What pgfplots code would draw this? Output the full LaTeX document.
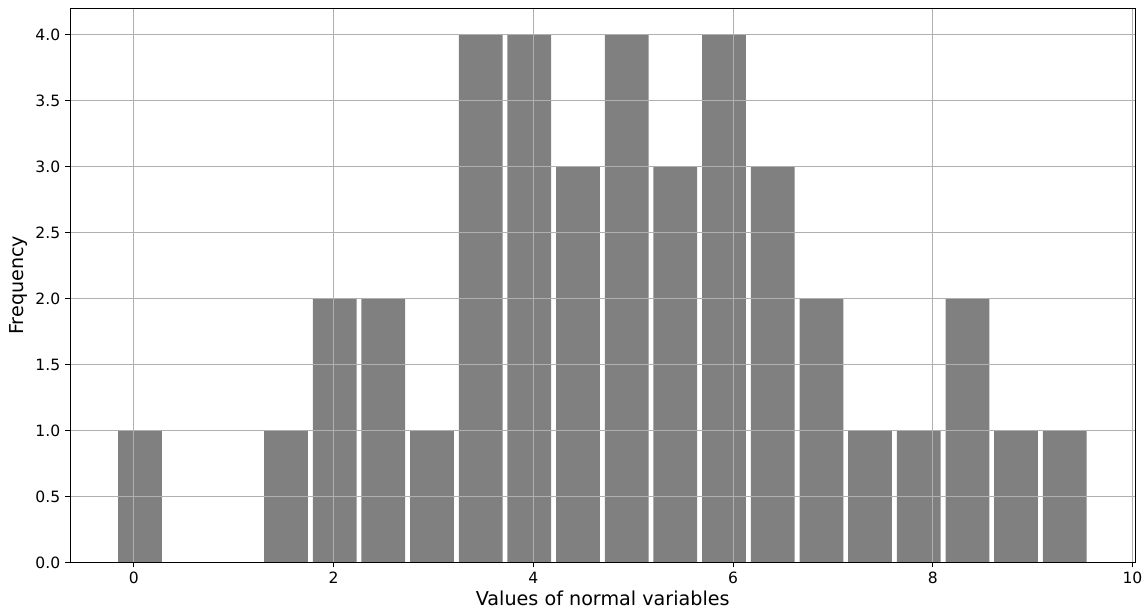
\documentclass[border=0pt]{standalone}
\usepackage{fontspec}
\setmainfont{DejaVu Sans}
\usepackage{pgfplots}
\pgfplotsset{compat=1.18}
\definecolor{bargray}{HTML}{808080}
\definecolor{gridgray}{HTML}{B0B0B0}
\begin{document}
\begin{tikzpicture}
\begin{axis}[
	scale only axis,
	width=767.5pt, height=399.4pt,
	xmin=-0.64, xmax=10.03,
	ymin=0, ymax=4.2,
	xtick={0,2,...,10},
	ytick={0,0.5,...,4},
	yticklabel style={/pgf/number format/fixed, /pgf/number format/fixed zerofill, /pgf/number format/precision=1},
	/pgf/number format/assume math mode=true,
	tick label style={font=\fontsize{11.2}{13}\selectfont},
	tick pos=left,
	tick align=outside,
	major tick length=3.5pt,
	every tick/.style={black, line width=0.6pt},
	grid=major,
	major grid style={gridgray, line width=0.6pt},
	axis line style={black, line width=0.6pt},
	axis on top,
	xlabel={Values of normal variables},
	ylabel={Frequency},
	label style={font=\fontsize{13.8}{16}\selectfont},
	xlabel style={yshift=2pt},
	ylabel style={yshift=-1pt},
]
\addplot[ybar, bar width=0.4387, bar shift=0pt, fill=bargray, draw=none] coordinates {
	(0.061,1)
	(1.523,1)
	(2.011,2)
	(2.498,2)
	(2.985,1)
	(3.473,4)
	(3.960,4)
	(4.448,3)
	(4.935,4)
	(5.422,3)
	(5.910,4)
	(6.397,3)
	(6.885,2)
	(7.372,1)
	(7.859,1)
	(8.347,2)
	(8.834,1)
	(9.322,1)
};
\end{axis}
\useasboundingbox (current axis.south west) ++(-50.4pt,-34.8pt) rectangle ([xshift=7.9pt,yshift=5.8pt]current axis.north east);
\end{tikzpicture}
\end{document}
